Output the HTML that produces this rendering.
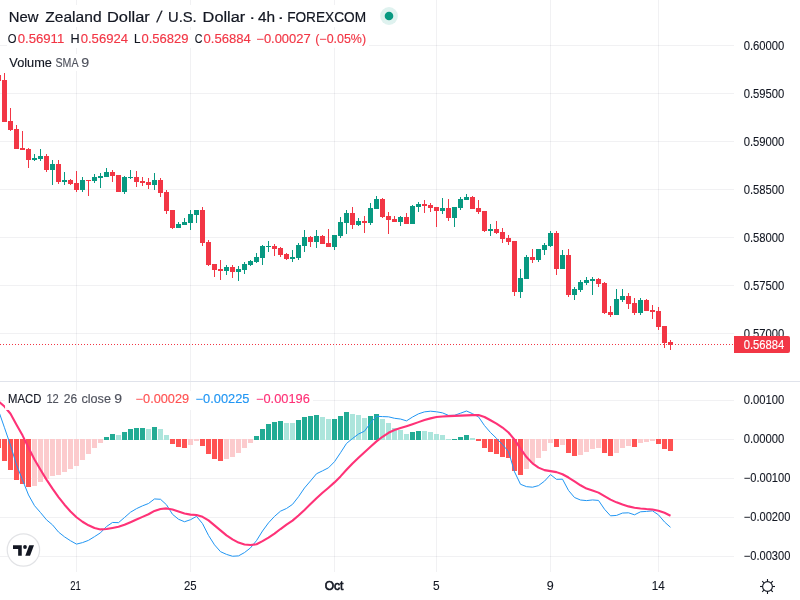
<!DOCTYPE html>
<html lang="en"><head><meta charset="utf-8"><title>NZDUSD chart</title>
<style>html,body{margin:0;padding:0;background:#fff;overflow:hidden}svg{display:block}text{font-family:"Liberation Sans", sans-serif;stroke-width:.14px}.t{stroke-width:.22px}.a{stroke-width:.1px}</style>
</head><body>
<svg width="800" height="600" viewBox="0 0 800 600">
<rect width="800" height="600" fill="#fff"/>
<g fill="#2a2e50" fill-opacity="0.065" shape-rendering="crispEdges">
<rect x="76" y="0" width="1" height="381"/>
<rect x="76" y="382" width="1" height="190"/>
<rect x="190" y="0" width="1" height="381"/>
<rect x="190" y="382" width="1" height="190"/>
<rect x="334" y="0" width="1" height="381"/>
<rect x="334" y="382" width="1" height="190"/>
<rect x="436" y="0" width="1" height="381"/>
<rect x="436" y="382" width="1" height="190"/>
<rect x="550" y="0" width="1" height="381"/>
<rect x="550" y="382" width="1" height="190"/>
<rect x="658" y="0" width="1" height="381"/>
<rect x="658" y="382" width="1" height="190"/>
<rect x="0" y="45" width="734" height="1"/>
<rect x="0" y="93" width="734" height="1"/>
<rect x="0" y="141" width="734" height="1"/>
<rect x="0" y="189" width="734" height="1"/>
<rect x="0" y="237" width="734" height="1"/>
<rect x="0" y="285" width="734" height="1"/>
<rect x="0" y="333" width="734" height="1"/>
<rect x="0" y="400" width="734" height="1"/>
<rect x="0" y="439" width="734" height="1"/>
<rect x="0" y="478" width="734" height="1"/>
<rect x="0" y="517" width="734" height="1"/>
<rect x="0" y="556" width="734" height="1"/>
</g>
<g fill="#089981" shape-rendering="crispEdges">
<rect x="34" y="154" width="1" height="7"/>
<rect x="32" y="158" width="5" height="2"/>
<rect x="40" y="149" width="1" height="12"/>
<rect x="38" y="156" width="5" height="3"/>
<rect x="52" y="160" width="1" height="25"/>
<rect x="50" y="164" width="5" height="6"/>
<rect x="64" y="172" width="1" height="13"/>
<rect x="62" y="180" width="5" height="2"/>
<rect x="82" y="177" width="1" height="15"/>
<rect x="80" y="180" width="5" height="10"/>
<rect x="94" y="174" width="1" height="9"/>
<rect x="92" y="177" width="5" height="4"/>
<rect x="100" y="173" width="1" height="15"/>
<rect x="98" y="176" width="5" height="2"/>
<rect x="106" y="168" width="1" height="9"/>
<rect x="104" y="172" width="5" height="5"/>
<rect x="124" y="176" width="1" height="18"/>
<rect x="122" y="177" width="5" height="15"/>
<rect x="130" y="170" width="1" height="9"/>
<rect x="128" y="177" width="5" height="1"/>
<rect x="154" y="173" width="1" height="17"/>
<rect x="152" y="180" width="5" height="5"/>
<rect x="178" y="222" width="1" height="6"/>
<rect x="176" y="224" width="5" height="4"/>
<rect x="184" y="218" width="1" height="7"/>
<rect x="182" y="222" width="5" height="3"/>
<rect x="190" y="210" width="1" height="20"/>
<rect x="188" y="214" width="5" height="9"/>
<rect x="196" y="210" width="1" height="13"/>
<rect x="194" y="210" width="5" height="5"/>
<rect x="226" y="265" width="1" height="10"/>
<rect x="224" y="267" width="5" height="4"/>
<rect x="238" y="266" width="1" height="15"/>
<rect x="236" y="269" width="5" height="3"/>
<rect x="244" y="262" width="1" height="12"/>
<rect x="242" y="264" width="5" height="6"/>
<rect x="250" y="260" width="1" height="6"/>
<rect x="248" y="261" width="5" height="4"/>
<rect x="256" y="253" width="1" height="10"/>
<rect x="254" y="257" width="5" height="5"/>
<rect x="262" y="245" width="1" height="20"/>
<rect x="260" y="246" width="5" height="12"/>
<rect x="268" y="241" width="1" height="11"/>
<rect x="266" y="245.5" width="5" height="1.5"/>
<rect x="292" y="250" width="1" height="12"/>
<rect x="290" y="257" width="5" height="2"/>
<rect x="298" y="243" width="1" height="17"/>
<rect x="296" y="245" width="5" height="13"/>
<rect x="304" y="230" width="1" height="22"/>
<rect x="302" y="237" width="5" height="9"/>
<rect x="316" y="230" width="1" height="18"/>
<rect x="314" y="236" width="5" height="6"/>
<rect x="334" y="235" width="1" height="15"/>
<rect x="332" y="235" width="5" height="12"/>
<rect x="340" y="217" width="1" height="21"/>
<rect x="338" y="222" width="5" height="14"/>
<rect x="346" y="210" width="1" height="24"/>
<rect x="344" y="213" width="5" height="10"/>
<rect x="358" y="218" width="1" height="8"/>
<rect x="356" y="221" width="5" height="4"/>
<rect x="370" y="203" width="1" height="22"/>
<rect x="368" y="208" width="5" height="15"/>
<rect x="376" y="196" width="1" height="13"/>
<rect x="374" y="199" width="5" height="10"/>
<rect x="400" y="216" width="1" height="10"/>
<rect x="398" y="217" width="5" height="5"/>
<rect x="412" y="205" width="1" height="19"/>
<rect x="410" y="206" width="5" height="18"/>
<rect x="418" y="202" width="1" height="10"/>
<rect x="416" y="204" width="5" height="3"/>
<rect x="442" y="198" width="1" height="16"/>
<rect x="440" y="208" width="5" height="3"/>
<rect x="454" y="207" width="1" height="20"/>
<rect x="452" y="207" width="5" height="11"/>
<rect x="460" y="197" width="1" height="13"/>
<rect x="458" y="199" width="5" height="9"/>
<rect x="466" y="194" width="1" height="6"/>
<rect x="464" y="197" width="5" height="3"/>
<rect x="490" y="224" width="1" height="12"/>
<rect x="488" y="229" width="5" height="2"/>
<rect x="520" y="269" width="1" height="29"/>
<rect x="518" y="278" width="5" height="14"/>
<rect x="526" y="255" width="1" height="24"/>
<rect x="524" y="257" width="5" height="22"/>
<rect x="538" y="249" width="1" height="13"/>
<rect x="536" y="249" width="5" height="11"/>
<rect x="544" y="243" width="1" height="12"/>
<rect x="542" y="245" width="5" height="5"/>
<rect x="550" y="231" width="1" height="16"/>
<rect x="548" y="233" width="5" height="13"/>
<rect x="562" y="250" width="1" height="19"/>
<rect x="560" y="255" width="5" height="14"/>
<rect x="574" y="287" width="1" height="13"/>
<rect x="572" y="289" width="5" height="6"/>
<rect x="580" y="280" width="1" height="12"/>
<rect x="578" y="282" width="5" height="8"/>
<rect x="586" y="277" width="1" height="8"/>
<rect x="584" y="280" width="5" height="3"/>
<rect x="592" y="277" width="1" height="18"/>
<rect x="590" y="279" width="5" height="2"/>
<rect x="616" y="289" width="1" height="26"/>
<rect x="614" y="299" width="5" height="16"/>
<rect x="622" y="289" width="1" height="13"/>
<rect x="620" y="296" width="5" height="4"/>
<rect x="640" y="298" width="1" height="17"/>
<rect x="638" y="300" width="5" height="13"/>
</g>
<g fill="#f23645" shape-rendering="crispEdges">
<rect x="-2" y="73" width="1" height="8"/>
<rect x="-4" y="75" width="5" height="6"/>
<rect x="4" y="73" width="1" height="49"/>
<rect x="2" y="80" width="5" height="42"/>
<rect x="10" y="108" width="1" height="23"/>
<rect x="8" y="121" width="5" height="9"/>
<rect x="16" y="125" width="1" height="24"/>
<rect x="14" y="129" width="5" height="20"/>
<rect x="22" y="131" width="1" height="19"/>
<rect x="20" y="148" width="5" height="2"/>
<rect x="28" y="148" width="1" height="20"/>
<rect x="26" y="149" width="5" height="11"/>
<rect x="46" y="154" width="1" height="18"/>
<rect x="44" y="156" width="5" height="14"/>
<rect x="58" y="160" width="1" height="24"/>
<rect x="56" y="164" width="5" height="18"/>
<rect x="70" y="179" width="1" height="6"/>
<rect x="68" y="180" width="5" height="4"/>
<rect x="76" y="171" width="1" height="21"/>
<rect x="74" y="183" width="5" height="7"/>
<rect x="88" y="180" width="1" height="16"/>
<rect x="86" y="180" width="5" height="1"/>
<rect x="112" y="170" width="1" height="12"/>
<rect x="110" y="172" width="5" height="4"/>
<rect x="118" y="175" width="1" height="17"/>
<rect x="116" y="175" width="5" height="17"/>
<rect x="136" y="171" width="1" height="16"/>
<rect x="134" y="177" width="5" height="5"/>
<rect x="142" y="177" width="1" height="9"/>
<rect x="140" y="180.5" width="5" height="2.5"/>
<rect x="148" y="178" width="1" height="11"/>
<rect x="146" y="182" width="5" height="3"/>
<rect x="160" y="178" width="1" height="19"/>
<rect x="158" y="180" width="5" height="13"/>
<rect x="166" y="190" width="1" height="24"/>
<rect x="164" y="192" width="5" height="19"/>
<rect x="172" y="210" width="1" height="19"/>
<rect x="170" y="210" width="5" height="18"/>
<rect x="202" y="207" width="1" height="39"/>
<rect x="200" y="210" width="5" height="33"/>
<rect x="208" y="240" width="1" height="26"/>
<rect x="206" y="242" width="5" height="23"/>
<rect x="214" y="264" width="1" height="13"/>
<rect x="212" y="264" width="5" height="6"/>
<rect x="220" y="260" width="1" height="20"/>
<rect x="218" y="269" width="5" height="2"/>
<rect x="232" y="265" width="1" height="13"/>
<rect x="230" y="267" width="5" height="5"/>
<rect x="274" y="244" width="1" height="12"/>
<rect x="272" y="246" width="5" height="3"/>
<rect x="280" y="247" width="1" height="10"/>
<rect x="278" y="248" width="5" height="7"/>
<rect x="286" y="253" width="1" height="7"/>
<rect x="284" y="254" width="5" height="5"/>
<rect x="310" y="236" width="1" height="11"/>
<rect x="308" y="237" width="5" height="5"/>
<rect x="322" y="235" width="1" height="9"/>
<rect x="320" y="236" width="5" height="8"/>
<rect x="328" y="229" width="1" height="18"/>
<rect x="326" y="243" width="5" height="4"/>
<rect x="352" y="207" width="1" height="22"/>
<rect x="350" y="213" width="5" height="12"/>
<rect x="364" y="216" width="1" height="17"/>
<rect x="362" y="221" width="5" height="2"/>
<rect x="382" y="198" width="1" height="20"/>
<rect x="380" y="199" width="5" height="18"/>
<rect x="388" y="212" width="1" height="22"/>
<rect x="386" y="216" width="5" height="4"/>
<rect x="394" y="216" width="1" height="6"/>
<rect x="392" y="219" width="5" height="3"/>
<rect x="406" y="213" width="1" height="11"/>
<rect x="404" y="217" width="5" height="7"/>
<rect x="424" y="200" width="1" height="13"/>
<rect x="422" y="204" width="5" height="2"/>
<rect x="430" y="203" width="1" height="9"/>
<rect x="428" y="205" width="5" height="3"/>
<rect x="436" y="207" width="1" height="20"/>
<rect x="434" y="207" width="5" height="4"/>
<rect x="448" y="199" width="1" height="22"/>
<rect x="446" y="208" width="5" height="10"/>
<rect x="472" y="196" width="1" height="13"/>
<rect x="470" y="197" width="5" height="12"/>
<rect x="478" y="200" width="1" height="14"/>
<rect x="476" y="208" width="5" height="4"/>
<rect x="484" y="211" width="1" height="21"/>
<rect x="482" y="211" width="5" height="20"/>
<rect x="496" y="221" width="1" height="13"/>
<rect x="494" y="229" width="5" height="4"/>
<rect x="502" y="228" width="1" height="15"/>
<rect x="500" y="232" width="5" height="7"/>
<rect x="508" y="235" width="1" height="10"/>
<rect x="506" y="238" width="5" height="4"/>
<rect x="514" y="241" width="1" height="55"/>
<rect x="512" y="241" width="5" height="51"/>
<rect x="532" y="249" width="1" height="14"/>
<rect x="530" y="257" width="5" height="3"/>
<rect x="556" y="231" width="1" height="44"/>
<rect x="554" y="233" width="5" height="36"/>
<rect x="568" y="249" width="1" height="48"/>
<rect x="566" y="255" width="5" height="40"/>
<rect x="598" y="278" width="1" height="9"/>
<rect x="596" y="279" width="5" height="5"/>
<rect x="604" y="282" width="1" height="32"/>
<rect x="602" y="283" width="5" height="30"/>
<rect x="610" y="306" width="1" height="11"/>
<rect x="608" y="312" width="5" height="3"/>
<rect x="628" y="293" width="1" height="16"/>
<rect x="626" y="296" width="5" height="8"/>
<rect x="634" y="298" width="1" height="17"/>
<rect x="632" y="303" width="5" height="10"/>
<rect x="646" y="299" width="1" height="12"/>
<rect x="644" y="300" width="5" height="11"/>
<rect x="652" y="305" width="1" height="14"/>
<rect x="650" y="310" width="5" height="2"/>
<rect x="658" y="307" width="1" height="23"/>
<rect x="656" y="311" width="5" height="16"/>
<rect x="664" y="326" width="1" height="22"/>
<rect x="662" y="326" width="5" height="17"/>
<rect x="670" y="340" width="1" height="10"/>
<rect x="668" y="342" width="5" height="3"/>
</g>
<line x1="0" y1="344.5" x2="734" y2="344.5" stroke="#f23645" stroke-width="1" stroke-dasharray="1 2" shape-rendering="crispEdges"/>
<rect x="0" y="381" width="800" height="1" fill="#e0e3eb" shape-rendering="crispEdges"/>
<g fill="#ff5252" shape-rendering="crispEdges">
<rect x="-4" y="439" width="5" height="9"/>
<rect x="2" y="439" width="5" height="22"/>
<rect x="8" y="439" width="5" height="31"/>
<rect x="14" y="439" width="5" height="41"/>
<rect x="20" y="439" width="5" height="45"/>
<rect x="26" y="439" width="5" height="48"/>
<rect x="170" y="439" width="5" height="5"/>
<rect x="176" y="439" width="5" height="8"/>
<rect x="182" y="439" width="5" height="9"/>
<rect x="200" y="439" width="5" height="7"/>
<rect x="206" y="439" width="5" height="15"/>
<rect x="212" y="439" width="5" height="20"/>
<rect x="218" y="439" width="5" height="22"/>
<rect x="476" y="439" width="5" height="2"/>
<rect x="482" y="439" width="5" height="9"/>
<rect x="488" y="439" width="5" height="13"/>
<rect x="494" y="439" width="5" height="15"/>
<rect x="500" y="439" width="5" height="18"/>
<rect x="506" y="439" width="5" height="19"/>
<rect x="512" y="439" width="5" height="32"/>
<rect x="518" y="439" width="5" height="36"/>
<rect x="554" y="439" width="5" height="8"/>
<rect x="566" y="439" width="5" height="14"/>
<rect x="572" y="439" width="5" height="17"/>
<rect x="602" y="439" width="5" height="14"/>
<rect x="608" y="439" width="5" height="17"/>
<rect x="632" y="439" width="5" height="8"/>
<rect x="656" y="439" width="5" height="5"/>
<rect x="662" y="439" width="5" height="10"/>
<rect x="668" y="439" width="5" height="12"/>
</g>
<g fill="#fccbcd" shape-rendering="crispEdges">
<rect x="32" y="439" width="5" height="47"/>
<rect x="38" y="439" width="5" height="43"/>
<rect x="44" y="439" width="5" height="40"/>
<rect x="50" y="439" width="5" height="37"/>
<rect x="56" y="439" width="5" height="36"/>
<rect x="62" y="439" width="5" height="33"/>
<rect x="68" y="439" width="5" height="30"/>
<rect x="74" y="439" width="5" height="27"/>
<rect x="80" y="439" width="5" height="21"/>
<rect x="86" y="439" width="5" height="15"/>
<rect x="92" y="439" width="5" height="9"/>
<rect x="98" y="439" width="5" height="4"/>
<rect x="188" y="439" width="5" height="6"/>
<rect x="194" y="439" width="5" height="2"/>
<rect x="224" y="439" width="5" height="20"/>
<rect x="230" y="439" width="5" height="18"/>
<rect x="236" y="439" width="5" height="14"/>
<rect x="242" y="439" width="5" height="9"/>
<rect x="248" y="439" width="5" height="4"/>
<rect x="524" y="439" width="5" height="30"/>
<rect x="530" y="439" width="5" height="24"/>
<rect x="536" y="439" width="5" height="19"/>
<rect x="542" y="439" width="5" height="12"/>
<rect x="548" y="439" width="5" height="4"/>
<rect x="560" y="439" width="5" height="6"/>
<rect x="578" y="439" width="5" height="16"/>
<rect x="584" y="439" width="5" height="13"/>
<rect x="590" y="439" width="5" height="10"/>
<rect x="596" y="439" width="5" height="9"/>
<rect x="614" y="439" width="5" height="14"/>
<rect x="620" y="439" width="5" height="9"/>
<rect x="626" y="439" width="5" height="7"/>
<rect x="638" y="439" width="5" height="4"/>
<rect x="644" y="439" width="5" height="3"/>
<rect x="650" y="439" width="5" height="2"/>
</g>
<g fill="#22ab94" shape-rendering="crispEdges">
<rect x="104" y="437" width="5" height="3"/>
<rect x="110" y="434" width="5" height="6"/>
<rect x="122" y="432" width="5" height="8"/>
<rect x="128" y="429" width="5" height="11"/>
<rect x="134" y="428" width="5" height="12"/>
<rect x="140" y="428" width="5" height="12"/>
<rect x="152" y="427" width="5" height="13"/>
<rect x="254" y="436" width="5" height="4"/>
<rect x="260" y="429" width="5" height="11"/>
<rect x="266" y="424" width="5" height="16"/>
<rect x="272" y="422" width="5" height="18"/>
<rect x="278" y="421" width="5" height="19"/>
<rect x="296" y="420" width="5" height="20"/>
<rect x="302" y="417" width="5" height="23"/>
<rect x="308" y="416" width="5" height="24"/>
<rect x="314" y="415" width="5" height="25"/>
<rect x="332" y="419" width="5" height="21"/>
<rect x="338" y="416" width="5" height="24"/>
<rect x="344" y="412" width="5" height="28"/>
<rect x="368" y="416" width="5" height="24"/>
<rect x="374" y="414" width="5" height="26"/>
<rect x="410" y="432" width="5" height="8"/>
<rect x="416" y="431" width="5" height="9"/>
<rect x="452" y="438.5" width="5" height="1.5"/>
<rect x="458" y="437" width="5" height="3"/>
<rect x="464" y="435" width="5" height="5"/>
</g>
<g fill="#ace5dc" shape-rendering="crispEdges">
<rect x="116" y="435" width="5" height="5"/>
<rect x="146" y="428.5" width="5" height="11.5"/>
<rect x="158" y="429" width="5" height="11"/>
<rect x="164" y="435" width="5" height="5"/>
<rect x="284" y="423" width="5" height="17"/>
<rect x="290" y="423" width="5" height="17"/>
<rect x="320" y="417" width="5" height="23"/>
<rect x="326" y="419" width="5" height="21"/>
<rect x="350" y="414" width="5" height="26"/>
<rect x="356" y="415" width="5" height="25"/>
<rect x="362" y="418" width="5" height="22"/>
<rect x="380" y="419" width="5" height="21"/>
<rect x="386" y="423" width="5" height="17"/>
<rect x="392" y="428" width="5" height="12"/>
<rect x="398" y="430" width="5" height="10"/>
<rect x="404" y="434" width="5" height="6"/>
<rect x="422" y="431" width="5" height="9"/>
<rect x="428" y="432" width="5" height="8"/>
<rect x="434" y="434" width="5" height="6"/>
<rect x="440" y="435" width="5" height="5"/>
<rect x="446" y="438.5" width="5" height="1.5"/>
<rect x="470" y="438" width="5" height="2"/>
</g>
<polyline fill="none" stroke="#2196f3" stroke-width="1" stroke-linejoin="round" points="-1.5,410.5 4.5,427.77 10.5,445.25 16.5,464.83 22.5,479.9 28.5,494.95 34.5,505.68 40.5,512.55 46.5,519.82 52.5,524.87 58.5,532.06 64.5,536.84 70.5,540.75 76.5,544.1 82.5,542.6 88.5,540.33 94.5,536.65 100.5,532.79 106.5,526.55 112.5,522.46 118.5,522.65 124.5,517.49 130.5,512.22 136.5,508.65 142.5,505.84 148.5,503.5 154.5,498.94 160.5,499.29 166.5,504.79 172.5,514.32 178.5,519.22 184.5,521.75 190.5,519.7 196.5,516.37 202.5,523.59 208.5,535.4 214.5,544.84 220.5,551.66 226.5,554.38 232.5,556.25 238.5,555.89 244.5,552.57 250.5,547.86 256.5,540.62 262.5,531.02 268.5,522.83 274.5,516.38 280.5,511.16 286.5,508.48 292.5,504.39 298.5,496.74 304.5,487.94 310.5,480.93 316.5,473.75 322.5,470.85 328.5,467.77 334.5,461.7 340.5,452.75 346.5,443.45 352.5,438.51 358.5,434.01 364.5,431.18 370.5,422.83 376.5,416.32 382.5,416.58 388.5,416.8 394.5,418.29 400.5,419.04 406.5,420.87 412.5,417.04 418.5,413.84 424.5,411.85 430.5,411.19 436.5,411.79 442.5,412.86 448.5,415.42 454.5,415.3 460.5,413.21 466.5,411.01 472.5,413.67 478.5,416.83 484.5,425.6 490.5,432.55 496.5,438.35 502.5,444.57 508.5,451.54 514.5,471.81 520.5,484.28 526.5,486.65 532.5,487.19 538.5,485.61 544.5,481.14 550.5,474.59 556.5,479.33 562.5,479.18 568.5,490.43 574.5,497.51 580.5,500 586.5,500.6 592.5,499.94 598.5,500.42 604.5,509.22 610.5,515.82 616.5,515.43 622.5,513.05 628.5,512.81 634.5,514.81 640.5,511.81 646.5,511.4 652.5,510.85 658.5,514.87 664.5,521.96 670.5,527.3"/>
<polyline fill="none" stroke="#fe3277" stroke-width="2.1" stroke-linejoin="round" points="-1.5,401.36 4.5,406.49 10.5,413.75 16.5,424.7 22.5,435.34 28.5,447.75 34.5,459.58 40.5,469.84 46.5,479.62 52.5,488.68 58.5,497.03 64.5,504.72 70.5,511.51 76.5,517.22 82.5,521.75 88.5,525.3 94.5,528.04 100.5,529.4 106.5,528.95 112.5,527.91 118.5,526.77 124.5,524.81 130.5,522.19 136.5,519.56 142.5,516.9 148.5,514.21 154.5,510.88 160.5,508.93 166.5,508.41 172.5,509.52 178.5,511.57 184.5,513.52 190.5,514.65 196.5,515.06 202.5,516.79 208.5,520.35 214.5,525.42 220.5,530.42 226.5,535.37 232.5,539.31 238.5,542.61 244.5,544.48 250.5,544.99 256.5,544.29 262.5,541.13 268.5,537.69 274.5,533.64 280.5,529.03 286.5,524.66 292.5,520.62 298.5,515.56 304.5,509.91 310.5,503.92 316.5,498.22 322.5,492.78 328.5,487.68 334.5,482.41 340.5,476.4 346.5,469.81 352.5,463.5 358.5,457.71 364.5,452.16 370.5,446.73 376.5,441.37 382.5,436.78 388.5,432.8 394.5,430 400.5,428.09 406.5,426.17 412.5,424.17 418.5,422.13 424.5,420.02 430.5,418.37 436.5,417.05 442.5,416.43 448.5,416.14 454.5,415.89 460.5,415.66 466.5,415.39 472.5,415.12 478.5,415.02 484.5,417 490.5,420.25 496.5,423.57 502.5,427.56 508.5,432.46 514.5,439.68 520.5,448.69 526.5,457.03 532.5,463.4 538.5,467.6 544.5,470.12 550.5,471.11 556.5,472.12 562.5,474.21 568.5,477.53 574.5,481.3 580.5,485.28 586.5,488.61 592.5,490.56 598.5,492.62 604.5,496.13 610.5,499.64 616.5,502.35 622.5,504.56 628.5,506.38 634.5,507.68 640.5,508.48 646.5,509.04 652.5,509.46 658.5,510.73 664.5,512.8 670.5,515.8"/>
<rect x="7" y="5" width="362" height="22" fill="#fff" fill-opacity="0.94"/>
<rect x="7" y="30" width="362" height="18" fill="#fff" fill-opacity="0.94"/>
<rect x="7" y="54" width="84" height="17" fill="#fff" fill-opacity="0.94"/>
<rect x="5" y="391" width="308" height="19" fill="#fff" fill-opacity="0.94"/>
<text class="t" transform="translate(156.3,21.7) skewX(-10)" font-size="15.4" fill="#131722" stroke="#131722">/</text>
<circle cx="389" cy="16" r="8.9" fill="#089981" fill-opacity="0.13"/><circle cx="389" cy="16" r="4.3" fill="#089981"/>
<text x="8.71" y="21.7" font-size="15.4" fill="#131722" stroke="#131722" font-weight="normal" class="t" textLength="29.66" lengthAdjust="spacingAndGlyphs">New</text>
<text x="45.24" y="21.7" font-size="15.4" fill="#131722" stroke="#131722" font-weight="normal" class="t" textLength="56.34" lengthAdjust="spacingAndGlyphs">Zealand</text>
<text x="106.94" y="21.7" font-size="15.4" fill="#131722" stroke="#131722" font-weight="normal" class="t" textLength="42.87" lengthAdjust="spacingAndGlyphs">Dollar</text>
<text x="168.04" y="21.7" font-size="15.4" fill="#131722" stroke="#131722" font-weight="normal" class="t" textLength="28.67" lengthAdjust="spacingAndGlyphs">U.S.</text>
<text x="202.6" y="21.7" font-size="15.4" fill="#131722" stroke="#131722" font-weight="normal" class="t" textLength="42.62" lengthAdjust="spacingAndGlyphs">Dollar</text>
<text x="249.17" y="21.7" font-size="15.4" fill="#131722" stroke="#131722" font-weight="normal" class="t" textLength="6" lengthAdjust="spacingAndGlyphs">·</text>
<text x="257.9" y="21.7" font-size="15.4" fill="#131722" stroke="#131722" font-weight="normal" class="t" textLength="17.15" lengthAdjust="spacingAndGlyphs">4h</text>
<text x="277.44" y="21.7" font-size="15.4" fill="#131722" stroke="#131722" font-weight="normal" class="t" textLength="6.65" lengthAdjust="spacingAndGlyphs">·</text>
<text x="287.14" y="21.7" font-size="15.4" fill="#131722" stroke="#131722" font-weight="normal" class="t" textLength="78.96" lengthAdjust="spacingAndGlyphs">FOREXCOM</text>
<text x="7.64" y="42.8" font-size="12" fill="#131722" stroke="#131722" textLength="8.76" lengthAdjust="spacingAndGlyphs">O</text>
<text x="17.69" y="42.8" font-size="12" fill="#f23645" stroke="#f23645" textLength="46.6" lengthAdjust="spacingAndGlyphs">0.56911</text>
<text x="70.47" y="42.8" font-size="12" fill="#131722" stroke="#131722" textLength="9.14" lengthAdjust="spacingAndGlyphs">H</text>
<text x="80.7" y="42.8" font-size="12" fill="#f23645" stroke="#f23645" textLength="47.37" lengthAdjust="spacingAndGlyphs">0.56924</text>
<text x="134.04" y="42.8" font-size="12" fill="#131722" stroke="#131722" textLength="6.53" lengthAdjust="spacingAndGlyphs">L</text>
<text x="141.5" y="42.8" font-size="12" fill="#f23645" stroke="#f23645" textLength="47.02" lengthAdjust="spacingAndGlyphs">0.56829</text>
<text x="194.77" y="42.8" font-size="12" fill="#131722" stroke="#131722" textLength="7.68" lengthAdjust="spacingAndGlyphs">C</text>
<text x="203.6" y="42.8" font-size="12" fill="#f23645" stroke="#f23645" textLength="47.32" lengthAdjust="spacingAndGlyphs">0.56884</text>
<text x="256.34" y="42.8" font-size="12" fill="#f23645" stroke="#f23645" textLength="54.33" lengthAdjust="spacingAndGlyphs">−0.00027</text>
<text x="315.24" y="42.8" font-size="12" fill="#f23645" stroke="#f23645" textLength="50.8" lengthAdjust="spacingAndGlyphs">(−0.05%)</text>
<text x="9.35" y="66.5" font-size="12" fill="#131722" stroke="#131722" textLength="42.53" lengthAdjust="spacingAndGlyphs">Volume</text>
<text x="55.49" y="66.5" font-size="12" fill="#50535e" stroke="#50535e" textLength="23.03" lengthAdjust="spacingAndGlyphs">SMA</text>
<text x="81.28" y="66.5" font-size="12" fill="#50535e" stroke="#50535e" textLength="7.93" lengthAdjust="spacingAndGlyphs">9</text>
<text x="8.08" y="402.6" font-size="12" fill="#131722" stroke="#131722" textLength="33.25" lengthAdjust="spacingAndGlyphs">MACD</text>
<text x="46.41" y="402.6" font-size="12" fill="#50535e" stroke="#50535e" textLength="12.42" lengthAdjust="spacingAndGlyphs">12</text>
<text x="63.87" y="402.6" font-size="12" fill="#50535e" stroke="#50535e" textLength="13.39" lengthAdjust="spacingAndGlyphs">26</text>
<text x="81.45" y="402.6" font-size="12" fill="#50535e" stroke="#50535e" textLength="29.56" lengthAdjust="spacingAndGlyphs">close</text>
<text x="114.39" y="402.6" font-size="12" fill="#50535e" stroke="#50535e" textLength="7.81" lengthAdjust="spacingAndGlyphs">9</text>
<text x="135.6" y="402.6" font-size="12" fill="#ff5252" stroke="#ff5252" textLength="53.56" lengthAdjust="spacingAndGlyphs">−0.00029</text>
<text x="195.6" y="402.6" font-size="12" fill="#2196f3" stroke="#2196f3" textLength="53.82" lengthAdjust="spacingAndGlyphs">−0.00225</text>
<text x="256" y="402.6" font-size="12" fill="#fe3277" stroke="#fe3277" textLength="53.82" lengthAdjust="spacingAndGlyphs">−0.00196</text>
<text x="743.65" y="49.9" font-size="12" fill="#131722" stroke="#131722" font-weight="normal" class="a" textLength="40.71" lengthAdjust="spacingAndGlyphs">0.60000</text>
<text x="743.65" y="97.9" font-size="12" fill="#131722" stroke="#131722" font-weight="normal" class="a" textLength="40.71" lengthAdjust="spacingAndGlyphs">0.59500</text>
<text x="743.65" y="145.9" font-size="12" fill="#131722" stroke="#131722" font-weight="normal" class="a" textLength="40.71" lengthAdjust="spacingAndGlyphs">0.59000</text>
<text x="743.65" y="193.9" font-size="12" fill="#131722" stroke="#131722" font-weight="normal" class="a" textLength="40.71" lengthAdjust="spacingAndGlyphs">0.58500</text>
<text x="743.65" y="241.9" font-size="12" fill="#131722" stroke="#131722" font-weight="normal" class="a" textLength="40.71" lengthAdjust="spacingAndGlyphs">0.58000</text>
<text x="743.65" y="289.9" font-size="12" fill="#131722" stroke="#131722" font-weight="normal" class="a" textLength="40.71" lengthAdjust="spacingAndGlyphs">0.57500</text>
<text x="743.65" y="337.9" font-size="12" fill="#131722" stroke="#131722" font-weight="normal" class="a" textLength="40.71" lengthAdjust="spacingAndGlyphs">0.57000</text>
<text x="743.65" y="403.9" font-size="12" fill="#131722" stroke="#131722" font-weight="normal" class="a" textLength="40.71" lengthAdjust="spacingAndGlyphs">0.00100</text>
<text x="743.65" y="442.9" font-size="12" fill="#131722" stroke="#131722" font-weight="normal" class="a" textLength="40.71" lengthAdjust="spacingAndGlyphs">0.00000</text>
<text x="743.72" y="481.9" font-size="12" fill="#131722" stroke="#131722" font-weight="normal" class="a" textLength="46.64" lengthAdjust="spacingAndGlyphs">−0.00100</text>
<text x="743.72" y="520.9" font-size="12" fill="#131722" stroke="#131722" font-weight="normal" class="a" textLength="46.64" lengthAdjust="spacingAndGlyphs">−0.00200</text>
<text x="743.72" y="559.9" font-size="12" fill="#131722" stroke="#131722" font-weight="normal" class="a" textLength="46.64" lengthAdjust="spacingAndGlyphs">−0.00300</text>
<path d="M734 336h54a2 2 0 0 1 2 2v13a2 2 0 0 1-2 2h-54z" fill="#f23645"/>
<text x="743.65" y="349" font-size="12" fill="#fff" stroke="#fff" textLength="40.62" lengthAdjust="spacingAndGlyphs">0.56884</text>
<text x="70.18" y="589.7" font-size="12" fill="#131722" stroke="#131722" font-weight="normal" class="a" textLength="10.6" lengthAdjust="spacingAndGlyphs">21</text>
<text x="184" y="589.7" font-size="12" fill="#131722" stroke="#131722" font-weight="normal" class="a" textLength="12.64" lengthAdjust="spacingAndGlyphs">25</text>
<text x="433.04" y="589.7" font-size="12" fill="#131722" stroke="#131722" font-weight="normal" class="a" textLength="6.63" lengthAdjust="spacingAndGlyphs">5</text>
<text x="546.65" y="589.7" font-size="12" fill="#131722" stroke="#131722" font-weight="normal" class="a" textLength="6.97" lengthAdjust="spacingAndGlyphs">9</text>
<text x="651.72" y="589.7" font-size="12" fill="#131722" stroke="#131722" font-weight="normal" class="a" textLength="13.03" lengthAdjust="spacingAndGlyphs">14</text>
<text x="324.71" y="589.7" font-size="12" fill="#131722" stroke="#131722" font-weight="normal" style="stroke-width:.65px" textLength="18.76" lengthAdjust="spacingAndGlyphs">Oct</text>
<g stroke="#131722" stroke-width="1.1" fill="none">
<circle cx="767.5" cy="586.5" r="4.9"/>
<line x1="772.50" y1="586.50" x2="775.00" y2="586.50"/>
<line x1="771.04" y1="590.04" x2="772.80" y2="591.80"/>
<line x1="767.50" y1="591.50" x2="767.50" y2="594.00"/>
<line x1="763.96" y1="590.04" x2="762.20" y2="591.80"/>
<line x1="762.50" y1="586.50" x2="760.00" y2="586.50"/>
<line x1="763.96" y1="582.96" x2="762.20" y2="581.20"/>
<line x1="767.50" y1="581.50" x2="767.50" y2="579.00"/>
<line x1="771.04" y1="582.96" x2="772.80" y2="581.20"/>
</g>
<circle cx="23.4" cy="550" r="16.2" fill="#fff" stroke="#e2e3e6" stroke-width="1.2"/>
<g fill="#131722"><path d="M13 545.2h8.75v10.5h-3.6v-6.8H13z"/><circle cx="25" cy="547" r="1.9"/><path d="M29.25 545.2h4.75l-4 10.5h-4.75z"/></g>
</svg>
</body></html>
